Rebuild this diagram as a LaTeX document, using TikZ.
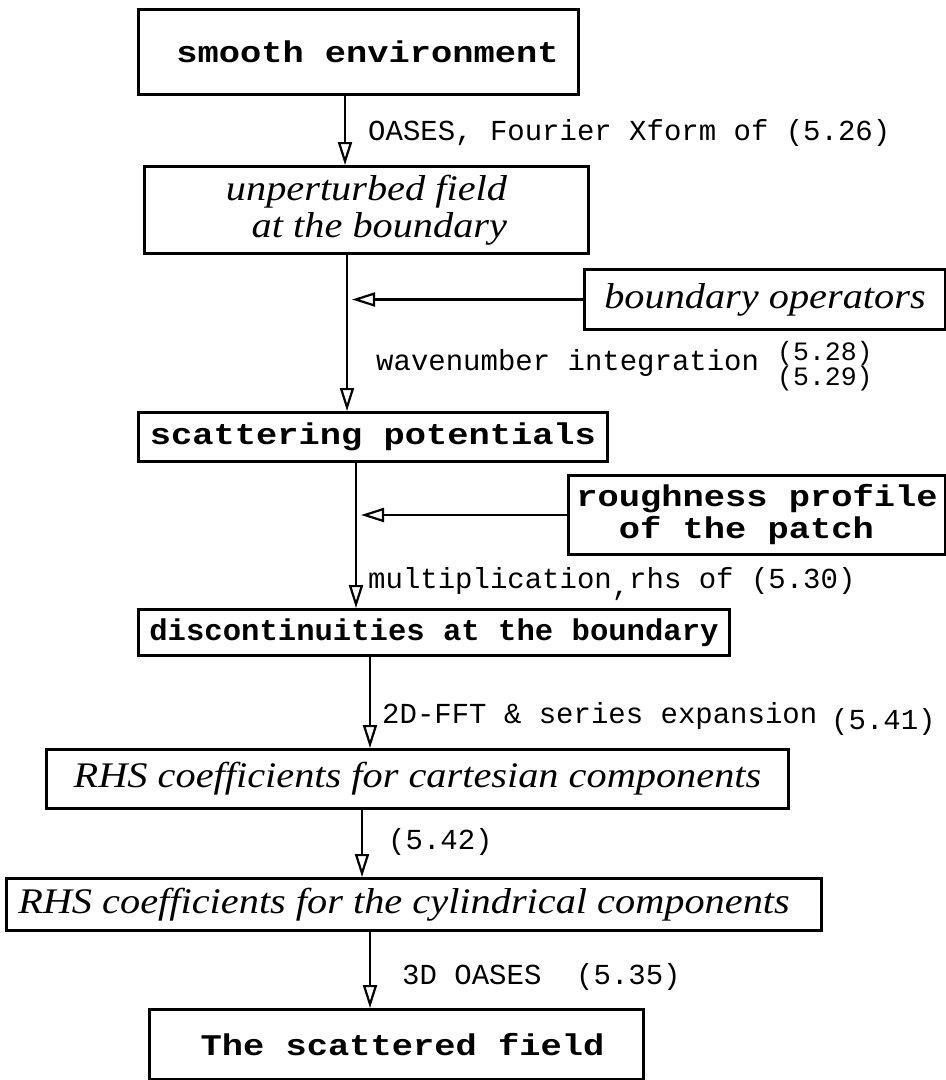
\documentclass[tikz,border=0pt]{standalone}
\usepackage{fontspec}
\usetikzlibrary{arrows.meta}
\newfontfamily\bmA{Liberation Mono}[FakeStretch=1.18]
\newfontfamily\bmB{Liberation Mono}[FakeStretch=1.02]
\newfontfamily\lblf{Liberation Mono}
\newfontfamily\itf{Liberation Serif}[FakeStretch=1.12]
\tikzset{
  box/.style={draw, line width=3pt, inner sep=0pt, anchor=north west},
  bbold/.style={font={\bmA\bfseries\fontsize{30}{32}\selectfont}},
  bboldn/.style={font={\bmB\bfseries\fontsize{30}{32}\selectfont}},
  ital/.style={font={\itf\itshape\fontsize{36}{37}\selectfont}},
  lab/.style={font={\lblf\fontsize{29}{30}\selectfont}, inner sep=0pt, anchor=base west},
  labs/.style={font={\lblf\fontsize{26.5}{27}\selectfont}, inner sep=0pt, anchor=base west},
  arr/.style={line width=2.7pt, -{Triangle[open, length=23pt, width=14pt, line width=2.2pt]}},
}
\begin{document}
\begin{tikzpicture}[x=1pt, y=-1pt]
\useasboundingbox (0,0) rectangle (946,1080);
% boxes
\node[box, bbold, minimum width=440, minimum height=85] (b1) at (137,8) {\hspace*{18pt}smooth environment};
\node[box, ital, align=right, minimum width=444, minimum height=87] (b2) at (143,165) {unperturbed field\\at the boundary};
\node[box, ital, minimum width=361, minimum height=60] (bo) at (583,268) {boundary operators};
\node[box, bbold, minimum width=469, minimum height=49] (b3) at (137,411) {scattering potentials};
\node[box, bbold, align=left, minimum width=377, minimum height=79] (rp) at (567,474) {roughness profile\\\phantom{of}of the patch};
\node[box, bboldn, minimum width=591, minimum height=46] (b4) at (137,608) {discontinuities at the boundary};
\node[box, ital, minimum width=742, minimum height=59] (b5) at (45,748) {RHS coefficients for cartesian components};
\node[box, ital, minimum width=815, minimum height=52] (b6) at (5,877) {RHS coefficients for the cylindrical components\hspace*{20pt}};
\node[box, bbold, minimum width=494, minimum height=70] (b7) at (148,1008) {\hspace*{12pt}The scattered field};
% arrow columns
\coordinate (x1) at (345,0);
\coordinate (x2) at (347,0);
\coordinate (x3) at (356,0);
\coordinate (x4) at (370,0);
\coordinate (x5) at (362,0);
\coordinate (x6) at (370,0);
\coordinate (h2) at (352,0);
\coordinate (h3) at (361,0);
% connectors
\draw[arr] (x1 |- b1.south) -- (x1 |- b2.north);
\draw[arr] (x2 |- b2.south) -- (x2 |- b3.north);
\draw[arr] (bo.west) -- (bo.west -| h2);
\draw[arr] (x3 |- b3.south) -- (x3 |- b4.north);
\draw[arr] (rp.west) -- (rp.west -| h3);
\draw[arr] (x4 |- b4.south) -- (x4 |- b5.north);
\draw[arr] (x5 |- b5.south) -- (x5 |- b6.north);
\draw[arr] (x6 |- b6.south) -- (x6 |- b7.north);
% labels
\node[lab] (l1) at (368,140) {OASES, Fourier Xform of (5.26)};
\node[lab] (l2) at (376,370) {wavenumber integration};
\node[labs] (l2a) at (777,360) {(5.28)};
\node[labs] (l2b) at (777,385) {(5.29)};
\node[lab] (l3) at (368,588) {multiplication\raisebox{-7pt}{,}rhs of (5.30)};
\node[lab] (l4) at (382,723) {2D-FFT \& series expansion};
\node[lab] (l4b) at (831,729) {(5.41)};
\node[lab] (l5) at (388,849) {(5.42)};
\node[lab] (l6) at (402,984) {3D OASES\ \ (5.35)};
\end{tikzpicture}
\end{document}
